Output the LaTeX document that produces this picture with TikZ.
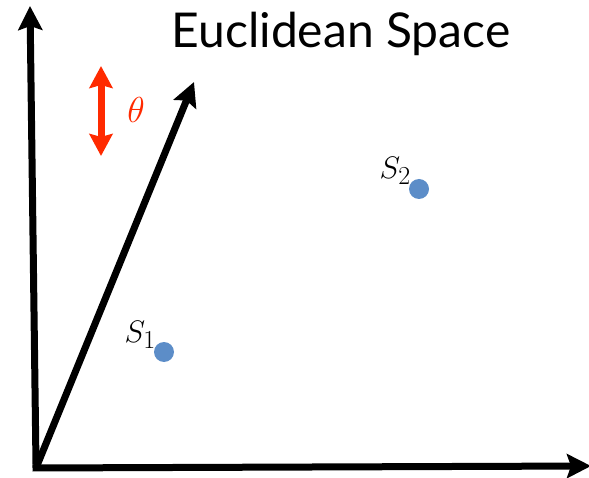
\documentclass[tikz,border=0pt]{standalone}
\usepackage{fontspec}
\setsansfont{Lato}
\usepackage{xcolor}
\usetikzlibrary{arrows.meta,positioning}
\definecolor{dotblue}{RGB}{92,141,200}
\definecolor{angred}{RGB}{255,42,0}
\tikzset{
  axisarrow/.style={-{Stealth[length=24pt,width=24pt,inset=4pt]}, line width=7pt},
  anglearrow/.style={{Stealth[length=22pt,width=23pt,inset=3pt]}-{Stealth[length=22pt,width=23pt,inset=3pt]}, line width=7pt, draw=angred},
  pointdot/.style={circle, fill=dotblue, minimum size=20pt, inner sep=0pt},
  pointlabel/.style={font=\Huge, inner sep=0pt},
}

\begin{document}
\begin{tikzpicture}[x=1pt, y=-1pt]
  \useasboundingbox (0,0) rectangle (589,478);
  \coordinate (origin) at (36,468);
  \coordinate (ytip) at (30,6);
  \coordinate (xtip) at (591,466);
  \coordinate (vtip) at (194,82);

  \node[font=\sffamily\fontsize{48}{50}\selectfont, anchor=base] (title) at (341,48) {Euclidean Space};

  \node[pointdot] (s2) at (419,189) {};
  \node[pointlabel, anchor=south east] (s2lbl) at (411,185) {\scalebox{1.25}{$S_2$}};
  \node[pointdot] (s1) at (164,352) {};
  \node[pointlabel, anchor=south east] (s1lbl) at (156,349) {\scalebox{1.25}{$S_1$}};

  \coordinate (angtop) at (101,66);
  \coordinate (angbot) at (101,156);
  \draw[anglearrow] (angtop) -- (angbot);
  \node[font=\Huge, text=angred] (theta) at (136,110) {\scalebox{1.45}{$\theta$}};

  \draw[axisarrow] ([yshift=3.5pt]origin) -- (ytip);
  \draw[axisarrow] ([xshift=-3.5pt]origin) -- (xtip);
  \draw[axisarrow] (origin) -- (vtip);
\end{tikzpicture}
\end{document}
